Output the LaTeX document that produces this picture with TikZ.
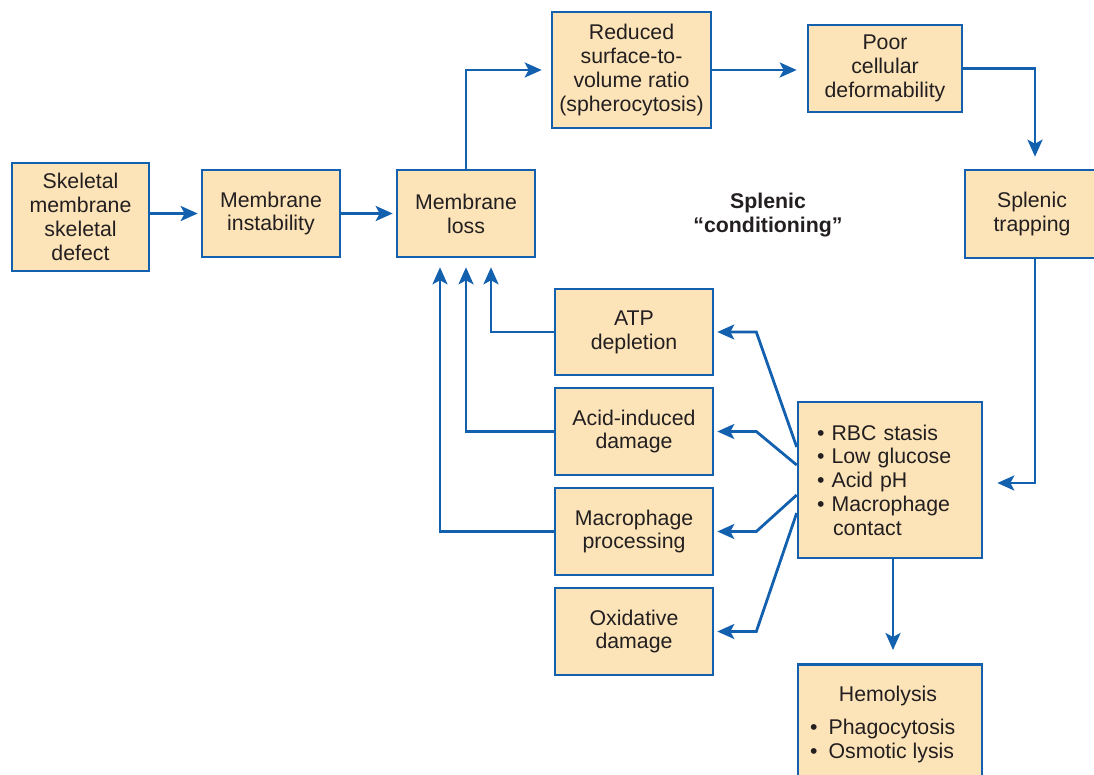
\documentclass[tikz,border=0pt]{standalone}
\usepackage{fontspec}
\setmainfont{Liberation Sans}
\usetikzlibrary{arrows.meta}

\definecolor{boxfill}{HTML}{FCE4B8}
\definecolor{boxline}{HTML}{1260AE}
\definecolor{ink}{HTML}{231F20}

\begin{document}
\begin{tikzpicture}[
    x=1pt, y=-1pt,
    font=\fontsize{21.3}{23.8}\selectfont,
    text=ink,
    bx/.style={draw=boxline, fill=boxfill, line width=2.6pt, align=center,
      inner sep=0pt},
    arr/.style={draw=boxline, line width=2.8pt,
      -{Stealth[length=17pt, width=15pt, inset=4pt]}, shorten >=3pt},
  ]

  \useasboundingbox (0,0) rectangle (1094,775);
  \clip (0,0) rectangle (1094,775);

  % --- main chain across the top ---
  \node[bx, minimum width=137, minimum height=108] (skel) at (80.5,217)
       {Skeletal\\membrane\\skeletal\\defect};
  \node[bx, minimum width=138, minimum height=87] (instab) at (271,213.5)
       {Membrane\\instability};
  \node[bx, minimum width=138, minimum height=87] (loss) at (466,213.5)
       {Membrane\\loss};
  \node[bx, minimum width=159, minimum height=116] (ratio) at (631.5,70)
       {Reduced\\surface-to-\\volume ratio\\(spherocytosis)};
  \node[bx, minimum width=154, minimum height=87] (deform) at (885,68.5)
       {Poor\\cellular\\deformability};
  \node[bx, minimum width=134, minimum height=88] (trap) at (1032,214)
       {Splenic\\trapping};

  \node[font=\fontsize{21.3}{23.8}\selectfont\bfseries, align=center] (cond)
       at (768,215) {Splenic\\``conditioning''};

  % --- splenic insults ---
  \node[bx, minimum width=158, minimum height=86] (atp) at (634,332)
       {ATP\\depletion};
  \node[bx, minimum width=158, minimum height=87] (acid) at (634,431.5)
       {Acid-induced\\damage};
  \node[bx, minimum width=158, minimum height=87] (macro) at (634,531.5)
       {Macrophage\\processing};
  \node[bx, minimum width=158, minimum height=87] (oxid) at (634,631.5)
       {Oxidative\\damage};

  \node[bx, minimum width=184, minimum height=156, text width=146,
        align=left] (env) at (890,480)
       {• RBC stasis\\• Low glucose\\• Acid pH\\• Macrophage\\
        \hspace*{16pt}contact};

  % --- outcome, runs off the bottom edge ---
  \node[bx, minimum width=184, minimum height=130, anchor=north]
       (hemo) at (890,663) {};
  \node (hemotitle) at (888,696) {Hemolysis};
  \node[align=left, anchor=west, inner sep=0pt] (hemolist) at (810,741)
       {•\hspace{11pt}Phagocytosis\\•\hspace{11pt}Osmotic lysis};

  % --- connectors ---
  \draw[arr] (skel.east |- instab.east) -- (instab.west);
  \draw[arr] (instab.east) -- (loss.west);
  \draw[arr, shorten >=9pt] (loss.north) |- (ratio.west);
  \draw[arr, shorten >=10pt] (ratio.east) -- (ratio.east -| deform.west);
  \draw[arr, shorten >=12pt] (deform.east) -| ([xshift=3pt]trap.north);
  \draw[arr, shorten >=14pt] ([xshift=3pt]trap.south) |- ([yshift=-3pt]env.east);
  \draw[arr, shorten >=13pt] ([xshift=3pt]env.south) -- ([xshift=3pt]hemo.north);

  \draw[arr] ([yshift=33pt]env.west) -- ([xshift=42pt]atp.east) -- (atp.east);
  \draw[arr] ([yshift=15pt]env.west) -- ([xshift=42pt]acid.east) -- (acid.east);
  \draw[arr] ([yshift=-15pt]env.west) -- ([xshift=42pt]macro.east) -- (macro.east);
  \draw[arr] ([yshift=-33pt]env.west) -- ([xshift=42pt]oxid.east) -- (oxid.east);

  \draw[arr, shorten >=9pt] (atp.west) -| ([xshift=25pt]loss.south);
  \draw[arr, shorten >=9pt] (acid.west) -| (loss.south);
  \draw[arr, shorten >=9pt] (macro.west) -| ([xshift=-26pt]loss.south);

\end{tikzpicture}
\end{document}
